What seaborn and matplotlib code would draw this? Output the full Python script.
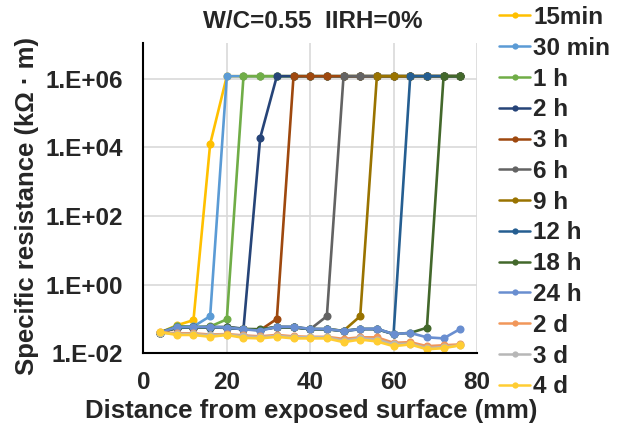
import numpy as np
import pandas as pd
import matplotlib
matplotlib.use("Agg")
import matplotlib.pyplot as plt
import seaborn as sns
from matplotlib.lines import Line2D

# ---------------- data ----------------
distance_mm = [4, 8, 12, 16, 20, 24, 28, 32, 36, 40, 44, 48, 52, 56, 60, 64, 68, 72, 76]
T = 1.2e6
r_15min = [0.040, 0.065, 0.092, 1.25e4] + [T] * 15
r_30min = [0.040, 0.060, 0.060, 0.120] + [T] * 15
r_1h = [0.040, 0.062, 0.058, 0.060, 0.097] + [T] * 14
r_2h = [0.040, 0.056, 0.057, 0.058, 0.058, 0.052, 1.9e4] + [T] * 12
r_3h = [0.040, 0.055, 0.056, 0.057, 0.056, 0.050, 0.047, 0.100] + [T] * 11
r_6h = [0.040, 0.055, 0.056, 0.057, 0.056, 0.050, 0.049, 0.058, 0.057, 0.050, 0.120] + [T] * 8
r_9h = [0.040, 0.055, 0.056, 0.056, 0.055, 0.050, 0.049, 0.057, 0.057, 0.050, 0.050, 0.045, 0.120] + [T] * 6
r_12h = [0.040, 0.055, 0.056, 0.056, 0.055, 0.050, 0.048, 0.057, 0.057, 0.050, 0.050, 0.044, 0.050, 0.050, 0.036] + [T] * 4
r_18h = [0.040, 0.058, 0.057, 0.057, 0.057, 0.051, 0.050, 0.058, 0.058, 0.051, 0.050, 0.045, 0.051, 0.051, 0.036, 0.039, 0.055] + [T] * 2
r_24h = [0.040, 0.058, 0.058, 0.058, 0.056, 0.050, 0.045, 0.059, 0.059, 0.051, 0.051, 0.044, 0.051, 0.052, 0.036, 0.039, 0.029, 0.027, 0.051]
r_2d = [0.041, 0.038, 0.038, 0.035, 0.036, 0.033, 0.031, 0.034, 0.031, 0.030, 0.030, 0.026, 0.029, 0.029, 0.020, 0.021, 0.016, 0.017, 0.018]
r_3d = [0.040, 0.036, 0.036, 0.033, 0.035, 0.031, 0.029, 0.032, 0.029, 0.029, 0.029, 0.023, 0.027, 0.025, 0.018, 0.019, 0.014, 0.015, 0.017]
r_4d = [0.041, 0.034, 0.034, 0.030, 0.034, 0.028, 0.027, 0.030, 0.027, 0.027, 0.027, 0.021, 0.025, 0.022, 0.016, 0.018, 0.013, 0.014, 0.017]

series_labels = ["15min", "30 min", "1 h", "2 h", "3 h", "6 h", "9 h", "12 h", "18 h", "24 h", "2 d", "3 d", "4 d"]
series_values = [r_15min, r_30min, r_1h, r_2h, r_3h, r_6h, r_9h, r_12h, r_18h, r_24h, r_2d, r_3d, r_4d]
colors = ["#FFC000", "#5B9BD5", "#70AD47", "#264478", "#9E480E", "#636363", "#997300",
          "#255E91", "#43682B", "#698ED0", "#F1975A", "#B7B7B7", "#FFCD33"]

x_ticks = [0, 20, 40, 60, 80]
y_ticks = [1e-2, 1e0, 1e2, 1e4, 1e6]
y_tick_labels = ["1.E-02", "1.E+00", "1.E+02", "1.E+04", "1.E+06"]
title = "W/C=0.55  IIRH=0%"
x_label = "Distance from exposed surface (mm)"
y_label = "Specific resistance (kΩ · m)"

df = pd.DataFrame({
    "distance": np.tile(distance_mm, len(series_labels)),
    "resistance": np.concatenate(series_values),
    "series": np.repeat(series_labels, len(distance_mm)),
})

# ---------------- style ----------------
sns.set_style("white")
plt.rcParams["font.family"] = ["Liberation Sans", "DejaVu Sans"]
plt.rcParams["font.weight"] = "bold"
FS = 17.5
FS_AX = 18.5

fig = plt.figure(figsize=(6.21, 4.25), dpi=100)
ax = fig.add_axes([0.231, 0.169, 0.768 - 0.231, 0.899 - 0.169])

sns.lineplot(data=df, x="distance", y="resistance", hue="series", hue_order=series_labels,
             palette=colors, marker="o", markersize=5.8, markeredgewidth=0, linewidth=1.9,
             legend=False, ax=ax, estimator=None, sort=False)

ax.set_yscale("log")
ax.set_xlim(0, 80)
ax.set_ylim(1e-2, 10 ** 7.05)
ax.set_xticks(x_ticks)
ax.set_yticks(y_ticks)
ax.set_yticklabels(y_tick_labels)
ax.yaxis.set_minor_locator(matplotlib.ticker.NullLocator())
ax.tick_params(axis="both", length=0, labelsize=FS)
ax.tick_params(axis="y", pad=15)
ax.tick_params(axis="x", pad=13)
for lab in ax.get_xticklabels() + ax.get_yticklabels():
    lab.set_fontweight("bold")
ax.grid(True, color="#D9D9D9", linewidth=1.2)
ax.set_axisbelow(True)
for s in ["top", "right"]:
    ax.spines[s].set_visible(False)
for s in ["left", "bottom"]:
    ax.spines[s].set_color("black")
    ax.spines[s].set_linewidth(1.5)
ax.set_xlabel("")
ax.set_ylabel("")

fig.text(311 / 621, 1 - 411 / 425, x_label, ha="center", va="center", fontsize=FS_AX, fontweight="bold")
fig.text(27 / 621, 1 - 206 / 425, y_label, ha="center", va="center", rotation=90, fontsize=FS_AX, fontweight="bold")
fig.text(313 / 621, 1 - 21 / 425, title, ha="center", va="center", fontsize=FS, fontweight="bold")

handles = [Line2D([0], [0], color=c, linewidth=1.8, marker="o", markersize=4.5, markeredgewidth=0) for c in colors]
fig.legend(handles, series_labels, loc="upper left", bbox_to_anchor=(499 / 621, 1 - 6 / 425),
           frameon=False, prop={"weight": "bold", "size": FS}, handlelength=1.28,
           handletextpad=0.12, labelspacing=0.32, borderpad=0, borderaxespad=0)

fig.savefig("out.png", dpi=100)
